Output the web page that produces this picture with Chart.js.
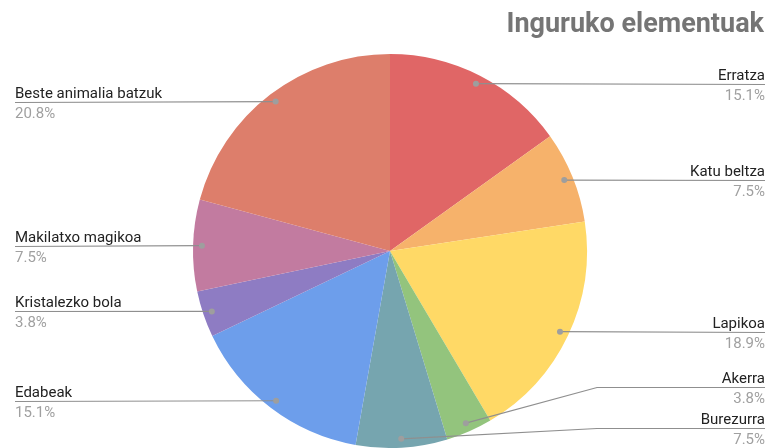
<!DOCTYPE html>
<html>
<head>
<meta charset="utf-8">
<script src="https://cdn.jsdelivr.net/npm/chart.js@4"></script>
<style>
html,body{margin:0;padding:0;background:#fff;}
#wrap{width:768px;height:448px;position:relative;}
</style>
</head>
<body>
<div id="wrap"><canvas id="c" width="768" height="448"></canvas></div>
<script>
const title = 'Inguruko elementuak';
const categories = ['Erratza','Katu beltza','Lapikoa','Akerra','Burezurra','Edabeak','Kristalezko bola','Makilatxo magikoa','Beste animalia batzuk'];
const percentages = [15.1, 7.5, 18.9, 3.8, 7.5, 15.1, 3.8, 7.5, 20.8];
const colors = ['#e06666','#f6b26b','#ffd966','#93c47d','#76a5af','#6d9eeb','#8e7cc3','#c27ba0','#dd7e6b'];

const labelPlugin = {
  id: 'leaderLabels',
  afterDraw(chart) {
    const ctx = chart.ctx;
    const meta = chart.getDatasetMeta(0);
    const W = chart.width;
    const leftX = 15, rightX = W - 3;
    const gap = 41, maxY = 428, minY = 60;
    const items = meta.data.map((arc, i) => {
      const p = arc.getProps(['x','y','startAngle','endAngle','outerRadius'], true);
      const mid = (p.startAngle + p.endAngle) / 2;
      const d = p.outerRadius * 0.955;
      const dx = p.x + Math.cos(mid) * d;
      const dy = p.y + Math.sin(mid) * d;
      return {i, cx: p.x, r: p.outerRadius, dx, dy, right: Math.cos(mid) >= 0, ly: dy};
    });
    [true, false].forEach(side => {
      const s = items.filter(it => it.right === side).sort((a,b) => a.dy - b.dy);
      let limit = maxY;
      for (let k = s.length - 1; k >= 0; k--) {
        s[k].ly = Math.min(s[k].dy, limit);
        limit = s[k].ly - gap;
      }
      let lo = minY;
      for (let k = 0; k < s.length; k++) {
        s[k].ly = Math.max(s[k].ly, lo);
        lo = s[k].ly + gap;
      }
    });
    ctx.save();
    items.forEach(it => {
      const ly = Math.round(it.ly) + 0.5;
      ctx.strokeStyle = '#8f8f8f';
      ctx.lineWidth = 1.2;
      ctx.beginPath();
      if (it.right) {
        const bx = it.cx + it.r + 10;
        ctx.moveTo(it.dx, it.dy);
        if (Math.abs(it.ly - it.dy) > 1) ctx.lineTo(bx, ly);
        ctx.lineTo(rightX, ly);
      } else {
        const bx = it.cx - it.r - 10;
        ctx.moveTo(it.dx, it.dy);
        if (Math.abs(it.ly - it.dy) > 1) ctx.lineTo(bx, ly);
        ctx.lineTo(leftX, ly);
      }
      ctx.stroke();
      ctx.fillStyle = '#9e9e9e';
      ctx.beginPath();
      ctx.arc(it.dx, it.dy, 3, 0, Math.PI * 2);
      ctx.fill();
      ctx.font = '15px Roboto';
      ctx.textAlign = it.right ? 'right' : 'left';
      ctx.textBaseline = 'alphabetic';
      const tx = it.right ? rightX : leftX;
      ctx.fillStyle = '#222222';
      ctx.fillText(categories[it.i], tx, ly - 5);
      ctx.fillStyle = '#a0a0a0';
      ctx.fillText(percentages[it.i].toFixed(1) + '%', tx, ly + 15);
    });
    ctx.font = 'bold 27px Roboto';
    ctx.textAlign = 'right';
    ctx.fillStyle = '#757575';
    ctx.fillText(title, W - 4, 32);
    ctx.restore();
  }
};

new Chart(document.getElementById('c'), {
  type: 'pie',
  data: {
    labels: categories,
    datasets: [{
      data: percentages,
      backgroundColor: colors,
      borderWidth: 0
    }]
  },
  options: {
    responsive: false,
    animation: false,
    layout: { padding: { left: 193, right: 181, top: 54, bottom: 0 } },
    plugins: {
      legend: { display: false },
      tooltip: { enabled: false },
      title: { display: false }
    }
  },
  plugins: [labelPlugin]
});
</script>
</body>
</html>
